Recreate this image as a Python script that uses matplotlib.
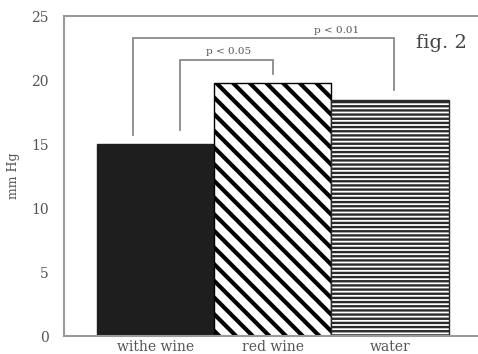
import matplotlib.pyplot as plt
import matplotlib as mpl
import numpy as np

# data
drinks = ['withe wine', 'red wine', 'water']
pressure = [15.0, 19.8, 18.4]
hatches = ['', '\\\\', '----']
faces = ['#1e1e1e', 'white', 'white']
edges = ['#1e1e1e', 'black', '#2a2a2a']
hatch_lw = [1.0, 3.0, 1.7]

# significance brackets: (left bar x, right bar x, top, left foot, right foot, label)
brackets = [
    (0.21, 1.00, 21.6, 16.1, 20.5, 'p < 0.05'),
    (-0.19, 2.03, 23.3, 15.7, 19.2, 'p < 0.01'),
]
label_x = [0.62, 1.54]

plt.rcParams['font.family'] = ['DejaVu Serif']
grey = '#555555'

fig = plt.figure(figsize=(4.78, 3.54), dpi=100)
ax = fig.add_axes([0.134, 0.0508, 0.866, 0.904])

x = np.arange(len(drinks))
for i in range(len(drinks)):
    with mpl.rc_context({'hatch.linewidth': hatch_lw[i]}):
        b = ax.bar(x[i], pressure[i], width=1.0, color=faces[i],
                   edgecolor=edges[i], hatch=hatches[i], linewidth=1.0)
        for p in b:
            if hasattr(p, 'set_hatch_linewidth'):
                p.set_hatch_linewidth(hatch_lw[i])

for (x0, x1, top, f0, f1, txt), tx in zip(brackets, label_x):
    ax.plot([x0, x0, x1, x1], [f0, top, top, f1], color='#8a8a8a', lw=1.3,
            solid_joinstyle='miter')
    ax.text(tx, top + 0.25, txt, ha='center', va='bottom', fontsize=7.5, color=grey)

ax.text(2.44, 22.9, 'fig. 2', ha='center', va='center', fontsize=14, color='#444444')

ax.set_xlim(-0.78, 2.75)
ax.set_ylim(0, 25)
ax.set_yticks([0, 5, 10, 15, 20, 25])
ax.set_xticks(x)
ax.set_xticklabels(drinks, fontsize=10, color=grey)
ax.tick_params(axis='y', length=0, pad=11, labelsize=10, labelcolor=grey)
ax.tick_params(axis='x', length=0, pad=3)
ax.set_ylabel('mm Hg', fontsize=9, color=grey, labelpad=8)

for s in ['left', 'top', 'bottom']:
    ax.spines[s].set_color('#9a9a9a')
    ax.spines[s].set_linewidth(1.5)
ax.spines['right'].set_visible(False)

fig.savefig('out.png', dpi=100)
